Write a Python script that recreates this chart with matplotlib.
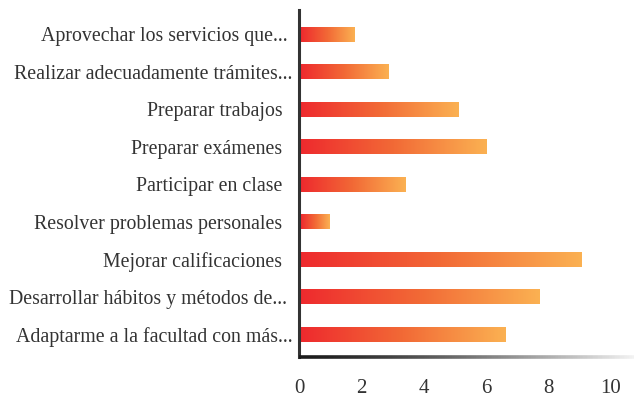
import numpy as np
import matplotlib
matplotlib.use("Agg")
import matplotlib.pyplot as plt
from matplotlib.colors import LinearSegmentedColormap
from matplotlib.collections import LineCollection

categorias = [
    "Aprovechar los servicios que... ",
    "Realizar adecuadamente trámites...",
    "Preparar trabajos  ",
    "Preparar exámenes  ",
    "Participar en clase  ",
    "Resolver problemas personales  ",
    "Mejorar calificaciones  ",
    "Desarrollar hábitos y métodos de... ",
    "Adaptarme a la facultad con más...",
]
valores = [1.76, 2.85, 5.1, 6.0, 3.4, 0.96, 9.07, 7.7, 6.63]
ticks_x = [0, 2, 4, 6, 8, 10]

plt.rcParams["font.family"] = ["Liberation Serif", "DejaVu Serif"]

fig = plt.figure(figsize=(6.35, 4.0), dpi=100)
ax = fig.add_axes([0.471, 0.1075, 0.527, 0.8675])

cmap = LinearSegmentedColormap.from_list("rojo_naranja", ["#ee2a2e", "#f26a36", "#fbb152"])
grad = np.linspace(0, 1, 256).reshape(1, -1)

n = len(categorias)
ys = np.arange(n)[::-1]
alto = 0.38
for y, v in zip(ys, valores):
    ax.imshow(grad, cmap=cmap, aspect="auto", interpolation="bilinear",
              extent=[0.05, v, y - alto / 2, y + alto / 2], zorder=2)

ax.set_xlim(0, 10.75)
ax.set_ylim(-0.6, n - 0.35)
ax.set_yticks(ys)
ax.set_yticklabels(categorias, fontsize=14.3, color="#333333")
ax.set_xticks(ticks_x)
ax.set_xticklabels([str(t) for t in ticks_x], fontsize=15, color="#333333")
ax.tick_params(axis="both", length=0)
ax.tick_params(axis="y", pad=5)
ax.tick_params(axis="x", pad=16)

for s in ["top", "right", "bottom"]:
    ax.spines[s].set_visible(False)
ax.spines["left"].set_color("#333333")
ax.spines["left"].set_linewidth(2.2)

# eje inferior con degradado de negro a blanco
xs = np.linspace(0, 1, 200)
segs = [[(xs[i], 0), (xs[i + 1], 0)] for i in range(len(xs) - 1)]
cols = [(0.1, 0.1, 0.1, 1 - 0.95 * (x ** 1.3)) for x in xs[:-1]]
lc = LineCollection(segs, colors=cols, linewidths=2.6,
                    transform=ax.transAxes, clip_on=False, zorder=3)
ax.add_collection(lc)

fig.savefig("out.png", dpi=100, facecolor="white")
